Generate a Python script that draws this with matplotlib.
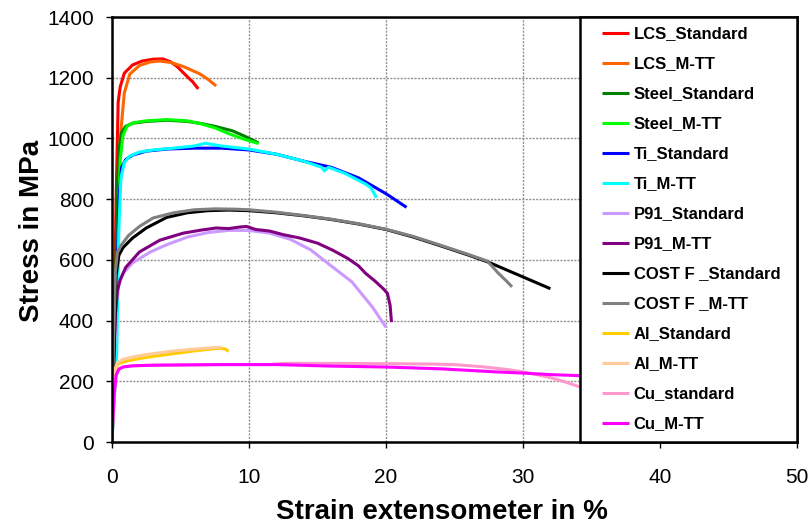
import matplotlib
matplotlib.use("Agg")
import matplotlib.pyplot as plt
from matplotlib.patches import Rectangle

plt.rcParams['font.family'] = ['Liberation Sans', 'DejaVu Sans']

# ---------------- data (strain %, stress MPa) ----------------
lcs_std_x = [0, 0.15, 0.3, 0.45, 0.6, 0.9, 1.5, 2.2, 3.0, 3.7, 4.3, 4.8, 5.3, 5.9, 6.3]
lcs_std_y = [0, 350, 800, 1120, 1170, 1215, 1242, 1255, 1261, 1262, 1252, 1235, 1212, 1186, 1163]

lcs_mtt_x = [0, 0.2, 0.4, 0.6, 0.9, 1.3, 2.0, 2.8, 3.5, 4.3, 5.2, 6.4, 7.0, 7.6]
lcs_mtt_y = [0, 300, 700, 1000, 1150, 1212, 1240, 1252, 1255, 1250, 1237, 1213, 1195, 1173]

steel_std_x = [0, 0.2, 0.36, 0.5, 0.7, 1.0, 1.5, 2.5, 4.0, 5.5, 6.4, 7.5, 8.8, 9.8, 10.7]
steel_std_y = [0, 350, 800, 960, 1020, 1040, 1050, 1056, 1060, 1056, 1050, 1040, 1025, 1005, 985]

steel_mtt_x = [0, 0.25, 0.45, 0.6, 0.8, 1.1, 1.6, 2.5, 4.0, 5.5, 6.5, 7.5, 8.5, 9.6, 10.7]
steel_mtt_y = [0, 300, 700, 930, 1010, 1040, 1052, 1058, 1062, 1058, 1048, 1035, 1016, 998, 983]

ti_std_x = [0, 0.3, 0.5, 0.7, 1.0, 1.5, 2.5, 4.0, 6.0, 8.0, 10.0, 12.0, 14.0, 16.0, 18.0, 20.0, 21.5]
ti_std_y = [0, 400, 800, 905, 930, 945, 958, 965, 968, 968, 962, 948, 925, 905, 870, 818, 773]

ti_mtt_x = [0, 0.35, 0.5, 0.65, 0.9, 1.3, 2.0, 3.0, 4.5, 6.0, 6.8, 8.0, 10.0, 12.0, 14.0, 15.3, 15.5, 15.8, 17.0, 18.5, 18.9, 19.3]
ti_mtt_y = [0, 300, 700, 870, 920, 942, 955, 962, 968, 975, 984, 975, 965, 948, 925, 905, 893, 905, 885, 850, 837, 805]

p91_std_x = [0, 0.15, 0.3, 0.5, 0.8, 1.5, 2.8, 4.0, 5.5, 7.0, 8.5, 10, 11.5, 13, 14.5, 16, 17.5, 19, 20]
p91_std_y = [0, 250, 450, 520, 555, 590, 626, 650, 675, 690, 697, 697, 688, 668, 633, 580, 528, 445, 378]

p91_mtt_x = [0, 0.1, 0.25, 0.4, 0.6, 1.0, 2.0, 3.5, 5.2, 6.5, 7.6, 8.5, 9.3, 9.8, 10.5, 11.5, 12.5, 13.7, 15, 16.1, 17.2, 18, 18.5, 19.2, 19.8, 20.1, 20.3, 20.4]
p91_mtt_y = [0, 250, 420, 500, 534, 575, 626, 665, 688, 698, 705, 703, 708, 710, 700, 695, 683, 672, 655, 632, 605, 580, 556, 530, 505, 490, 450, 395]

cost_std_x = [0, 0.15, 0.3, 0.5, 0.8, 1.5, 2.5, 4.0, 5.5, 7.0, 8.5, 10, 12, 14, 16, 18, 20, 22, 24, 26, 27.5, 29, 30.5, 32]
cost_std_y = [0, 300, 550, 615, 640, 672, 705, 740, 755, 762, 764, 762, 755, 745, 733, 718, 700, 675, 646, 616, 592, 563, 534, 505]

cost_mtt_x = [0, 0.1, 0.25, 0.4, 0.7, 1.2, 2.0, 3.0, 4.5, 6.0, 7.5, 9.0, 10, 12, 14, 16, 18, 20, 22, 24, 26, 27.4, 28.2, 28.8, 29.2]
cost_mtt_y = [0, 300, 560, 625, 650, 680, 710, 738, 755, 765, 768, 767, 765, 757, 746, 734, 719, 701, 677, 648, 618, 596, 556, 530, 511]

al_std_x = [0, 0.1, 0.25, 0.5, 1.0, 2.0, 3.0, 4.0, 5.0, 6.0, 7.0, 7.9, 8.3, 8.5]
al_std_y = [0, 150, 245, 258, 266, 275, 282, 288, 294, 300, 305, 309, 306, 298]

al_mtt_x = [0, 0.1, 0.2, 0.4, 0.8, 1.5, 2.5, 3.5, 4.5, 5.5, 6.5, 7.5, 8.0]
al_mtt_y = [0, 120, 230, 262, 272, 280, 288, 294, 300, 304, 308, 311, 312]

cu_std_x = [0, 0.05, 0.15, 0.3, 0.5, 0.8, 1.5, 3, 8, 11.5, 12.5, 16, 20, 23, 25, 27, 29, 30, 31, 32, 33, 34.5]
cu_std_y = [0, 60, 150, 220, 240, 247, 251, 253, 255, 255, 259, 259, 258, 257, 255, 248, 238, 231, 222, 212, 199, 176]

cu_mtt_x = [0, 0.05, 0.15, 0.3, 0.5, 0.8, 1.5, 3.0, 8.0, 12.0, 16.0, 20.0, 24.0, 28.0, 30.0, 32.0, 34.5]
cu_mtt_y = [0, 60, 150, 220, 240, 247, 251, 253, 255, 255, 250, 247, 241, 231, 227, 222, 218]

labels = ['LCS_Standard', 'LCS_M-TT', 'Steel_Standard', 'Steel_M-TT', 'Ti_Standard', 'Ti_M-TT',
          'P91_Standard', 'P91_M-TT', 'COST F _Standard', 'COST F _M-TT', 'Al_Standard', 'Al_M-TT',
          'Cu_standard', 'Cu_M-TT']
colors = ['#FF0000', '#FF6600', '#008000', '#00FF00', '#0000FF', '#00FFFF',
          '#CC99FF', '#800080', '#000000', '#808080', '#FFCC00', '#FFCC99',
          '#FF99CC', '#FF00FF']
series = [(lcs_std_x, lcs_std_y), (lcs_mtt_x, lcs_mtt_y), (steel_std_x, steel_std_y),
          (steel_mtt_x, steel_mtt_y), (ti_std_x, ti_std_y), (ti_mtt_x, ti_mtt_y),
          (p91_std_x, p91_std_y), (p91_mtt_x, p91_mtt_y), (cost_std_x, cost_std_y),
          (cost_mtt_x, cost_mtt_y), (al_std_x, al_std_y), (al_mtt_x, al_mtt_y),
          (cu_std_x, cu_std_y), (cu_mtt_x, cu_mtt_y)]

x_ticks = [0, 10, 20, 30, 40, 50]
y_ticks = [0, 200, 400, 600, 800, 1000, 1200, 1400]

# ---------------- figure ----------------
fig = plt.figure(figsize=(8.11, 5.26), dpi=100)
ax = fig.add_axes([112/811, 1 - 442/526, 685/811, 425/526])

handles = []
for (xs, ys), lab, c in zip(series, labels, colors):
    h, = ax.plot(xs, ys, color=c, lw=2.2, label=lab, zorder=2, solid_capstyle='butt')
    handles.append(h)

ax.set_xlim(0, 50)
ax.set_ylim(0, 1400)
ax.set_xticks(x_ticks)
ax.set_yticks(y_ticks)
ax.grid(True, color='#909090', lw=1.0, linestyle=(0, (1.5, 1)), zorder=1)
ax.set_axisbelow(True)

for sp in ax.spines.values():
    sp.set_linewidth(1.8)
    sp.set_color('black')

ax.tick_params(axis='both', direction='out', length=4, width=1, labelsize=15, colors='black')
ax.tick_params(axis='x', pad=15)
ax.tick_params(axis='y', pad=9)

ax.set_xlabel('Strain extensometer in %', fontsize=20, fontweight='bold')
ax.set_ylabel('Stress in MPa', fontsize=20, fontweight='bold')
ax.xaxis.set_label_coords(0.482, -0.134)
ax.yaxis.set_label_coords(-0.098, 0.497)

# legend box covering right part of plot area
x0 = (580 - 112) / 685
rect = Rectangle((x0, 0), 1 - x0, 1, transform=ax.transAxes, facecolor='white',
                 edgecolor='black', lw=1.8, zorder=3, clip_on=False)
ax.add_patch(rect)

leg = ax.legend(handles=handles, loc='upper left', bbox_to_anchor=((602 - 112) / 685, 0.978),
                frameon=False, borderpad=0, borderaxespad=0, labelspacing=0.9,
                handlelength=1.6, handletextpad=0.3,
                prop={'family': 'Liberation Sans', 'weight': 'bold', 'size': 12})
leg.set_zorder(5)

fig.savefig('out.png', dpi=100)
